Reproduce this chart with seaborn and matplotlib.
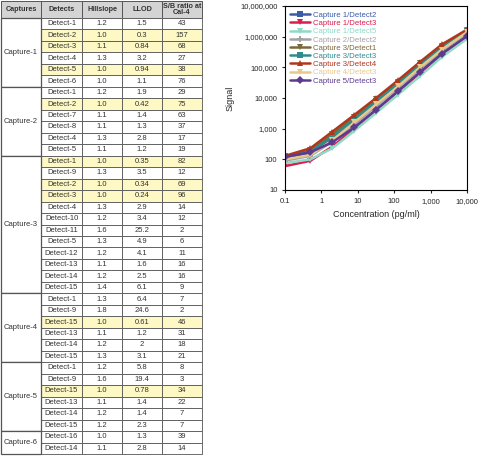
import numpy as np
import pandas as pd
import seaborn as sns
import matplotlib.pyplot as plt
from matplotlib.patches import Rectangle

# --------------------------------------------------
# Table data
# --------------------------------------------------
header = ["Captures", "Detects", "Hillslope", "LLOD", "S/B ratio at\nCal-4"]
capture_names = ["Capture-1", "Capture-2", "Capture-3", "Capture-4", "Capture-5", "Capture-6"]
capture_sizes = [6, 6, 12, 6, 6, 2]
detects = ["Detect-1", "Detect-2", "Detect-3", "Detect-4", "Detect-5", "Detect-6",
           "Detect-1", "Detect-2", "Detect-7", "Detect-8", "Detect-4", "Detect-5",
           "Detect-1", "Detect-9", "Detect-2", "Detect-3", "Detect-4", "Detect-10",
           "Detect-11", "Detect-5", "Detect-12", "Detect-13", "Detect-14", "Detect-15",
           "Detect-1", "Detect-9", "Detect-15", "Detect-13", "Detect-14", "Detect-15",
           "Detect-1", "Detect-9", "Detect-15", "Detect-13", "Detect-14", "Detect-15",
           "Detect-16", "Detect-14"]
hillslope = ["1.2", "1.0", "1.1", "1.3", "1.0", "1.0",
             "1.2", "1.0", "1.1", "1.1", "1.3", "1.1",
             "1.0", "1.3", "1.0", "1.0", "1.3", "1.2", "1.6", "1.3", "1.2", "1.1", "1.2", "1.4",
             "1.3", "1.8", "1.0", "1.1", "1.2", "1.3",
             "1.2", "1.6", "1.0", "1.1", "1.2", "1.2",
             "1.0", "1.1"]
llod = ["1.5", "0.3", "0.84", "3.2", "0.94", "1.1",
        "1.9", "0.42", "1.4", "1.3", "2.8", "1.2",
        "0.35", "3.5", "0.34", "0.24", "2.9", "3.4", "25.2", "4.9", "4.1", "1.6", "2.5", "6.1",
        "6.4", "24.6", "0.61", "1.2", "2", "3.1",
        "5.8", "19.4", "0.78", "1.4", "1.4", "2.3",
        "1.3", "2.8"]
sb_ratio = ["43", "157", "68", "27", "38", "76",
            "29", "75", "63", "37", "17", "19",
            "82", "12", "69", "96", "14", "12", "2", "6", "11", "16", "16", "9",
            "7", "2", "46", "31", "18", "21",
            "8", "3", "34", "22", "7", "7",
            "39", "14"]
highlighted = [1, 2, 4, 7, 12, 14, 15, 26, 32]

# --------------------------------------------------
# Curve data
# --------------------------------------------------
concentration = [0.1, 0.5, 2, 8, 32, 128, 512, 2048, 10000]
series_names = ["Capture 1/Detect2", "Capture 1/Detect3", "Capture 1/Detect5",
                "Capture 2/Detect2", "Capture 3/Detect1", "Capture 3/Detect3",
                "Capture 3/Detect4", "Capture 4/Detect3", "Capture 5/Detect3"]
signal = {
    "Capture 1/Detect2": [110, 160, 480, 1800, 7000, 27000, 110000, 420000, 1500000],
    "Capture 1/Detect3": [60, 90, 260, 1000, 4000, 16000, 65000, 270000, 1000000],
    "Capture 1/Detect5": [75, 100, 230, 850, 3300, 13000, 52000, 220000, 850000],
    "Capture 2/Detect2": [90, 130, 380, 1400, 5500, 22000, 90000, 350000, 1300000],
    "Capture 3/Detect1": [120, 200, 650, 2400, 9000, 34000, 135000, 500000, 1600000],
    "Capture 3/Detect3": [125, 180, 550, 2000, 8000, 30000, 120000, 450000, 1500000],
    "Capture 3/Detect4": [130, 230, 800, 2800, 10000, 38000, 150000, 560000, 1700000],
    "Capture 4/Detect3": [100, 140, 420, 1600, 6200, 24000, 100000, 380000, 1400000],
    "Capture 5/Detect3": [120, 170, 360, 1100, 4200, 17000, 70000, 280000, 1050000],
}
colors = ["#3a5ca8", "#d81e50", "#8fd9c6", "#a3a3a3", "#7a6a3a",
          "#2f8c8c", "#b2361c", "#e8c98c", "#5c3b8e"]
markers = ["s", "v", "v", "P", "v", "s", "^", "v", "D"]

rows = []
for name in series_names:
    for c, s in zip(concentration, signal[name]):
        rows.append({"series": name, "conc": c, "signal": s})
df = pd.DataFrame(rows)

# --------------------------------------------------
# Figure
# --------------------------------------------------
sns.set_style("white")
plt.rcParams["font.family"] = ["Liberation Sans", "DejaVu Sans"]
fig = plt.figure(figsize=(4.8, 4.57), dpi=100)

# table drawn in pixel coordinates
tab = fig.add_axes([0, 0, 1, 1])
tab.set_xlim(0, 480)
tab.set_ylim(457, 0)
tab.axis("off")

col_x = [1, 41, 82, 122, 162, 202]
top, head_h = 1, 17
row_h = (454 - top - head_h) / len(detects)

for i, h in enumerate(header):
    tab.add_patch(Rectangle((col_x[i], top), col_x[i + 1] - col_x[i], head_h,
                            facecolor="#d4d4d4", edgecolor="#555555", lw=0.7))
    tab.text((col_x[i] + col_x[i + 1]) / 2, top + head_h / 2, h, ha="center", va="center",
             fontsize=5.2, fontweight="bold", color="#333333", linespacing=1.0)

for r in range(len(detects)):
    y = top + head_h + r * row_h
    fc = "#fdf8c4" if r in highlighted else "white"
    vals = [detects[r], hillslope[r], llod[r], sb_ratio[r]]
    for j, v in enumerate(vals):
        tab.add_patch(Rectangle((col_x[j + 1], y), col_x[j + 2] - col_x[j + 1], row_h,
                                facecolor=fc, edgecolor="#555555", lw=0.6))
        tab.text((col_x[j + 1] + col_x[j + 2]) / 2, y + row_h / 2, v, ha="center",
                 va="center", fontsize=5.5, color="#333333")

start = 0
for name, n in zip(capture_names, capture_sizes):
    y = top + head_h + start * row_h
    tab.add_patch(Rectangle((col_x[0], y), col_x[1] - col_x[0], n * row_h,
                            facecolor="white", edgecolor="#555555", lw=0.9))
    tab.text((col_x[0] + col_x[1]) / 2, y + n * row_h / 2, name, ha="center",
             va="center", fontsize=5.5, color="#333333")
    start += n

# curve plot
ax = fig.add_axes([285 / 480, (457 - 190) / 457, 182 / 480, 184 / 457])
sns.lineplot(data=df, x="conc", y="signal", hue="series", style="series",
             hue_order=series_names, style_order=series_names,
             palette=colors, markers=markers, dashes=False, lw=1.8,
             markersize=4, markeredgewidth=0, ax=ax)
ax.set_xscale("log")
ax.set_yscale("log")
ax.set_xlim(0.1, 10000)
ax.set_ylim(10, 10000000)
ax.set_xticks([0.1, 1, 10, 100, 1000, 10000])
ax.set_xticklabels(["0.1", "1", "10", "100", "1,000", "10,000"])
ax.set_yticks([10, 100, 1000, 10000, 100000, 1000000, 10000000])
ax.set_yticklabels(["10", "100", "1,000", "10,000", "100,000", "1,000,000", "10,000,000"])
ax.minorticks_off()
ax.tick_params(labelsize=5.5, length=2, left=True, bottom=True)
ax.set_xlabel("Concentration (pg/ml)", fontsize=6.5)
ax.set_ylabel("Signal", fontsize=6.5)
for sp in ax.spines.values():
    sp.set_color("black")
    sp.set_linewidth(0.8)

leg = ax.legend(loc="upper left", fontsize=5.6, frameon=False, handlelength=2.5,
                borderaxespad=0.3, labelspacing=0.1, handletextpad=0.4)
for text, c in zip(leg.get_texts(), colors):
    text.set_color(c)

fig.savefig("out.png", dpi=100)
